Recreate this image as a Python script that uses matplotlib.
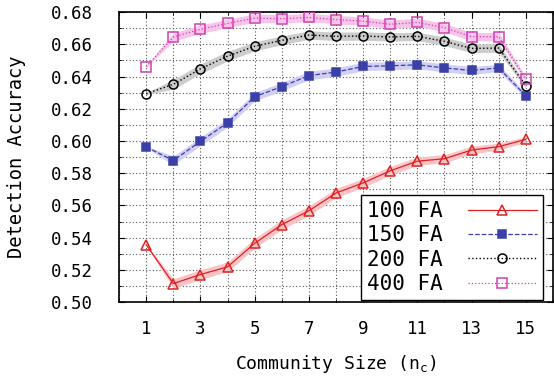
import numpy as np
import matplotlib
matplotlib.use("Agg")
import matplotlib.pyplot as plt
from matplotlib.ticker import MultipleLocator

plt.rcParams['font.family'] = ['DejaVu Sans Mono']
plt.rcParams['mathtext.fontset'] = 'custom'
plt.rcParams['mathtext.rm'] = 'DejaVu Sans Mono'
plt.rcParams['mathtext.default'] = 'rm'

# Data
sizes = np.arange(1, 16)
acc_100 = [0.5356, 0.5115, 0.5171, 0.5219, 0.5365, 0.5481, 0.5567, 0.5677,
           0.5740, 0.5815, 0.5875, 0.5890, 0.5944, 0.5965, 0.6010]
acc_150 = [0.5963, 0.5879, 0.5998, 0.6113, 0.6275, 0.6338, 0.6406, 0.6428,
           0.6463, 0.6467, 0.6473, 0.6454, 0.6438, 0.6454, 0.6281]
acc_200 = [0.6294, 0.6352, 0.6448, 0.6527, 0.6588, 0.6625, 0.6658, 0.6650,
           0.6652, 0.6646, 0.6650, 0.6619, 0.6575, 0.6577, 0.6344]
acc_400 = [0.6462, 0.6646, 0.6694, 0.6730, 0.6763, 0.6759, 0.6767, 0.6754,
           0.6744, 0.6725, 0.6736, 0.6704, 0.6648, 0.6648, 0.6384]
# half-width of the shaded bands
err_100 = [0.0006, 0.0030, 0.0030, 0.0030, 0.0030, 0.0030, 0.0030, 0.0028,
           0.0028, 0.0027, 0.0026, 0.0025, 0.0024, 0.0022, 0.0018]
err_150 = [0.0006, 0.0027, 0.0026, 0.0026, 0.0026, 0.0026, 0.0026, 0.0026,
           0.0026, 0.0025, 0.0025, 0.0025, 0.0025, 0.0022, 0.0015]
err_200 = [0.0006, 0.0030, 0.0030, 0.0030, 0.0028, 0.0027, 0.0026, 0.0026,
           0.0026, 0.0026, 0.0026, 0.0026, 0.0026, 0.0026, 0.0015]
err_400 = [0.0006, 0.0026, 0.0026, 0.0026, 0.0026, 0.0026, 0.0026, 0.0026,
           0.0026, 0.0026, 0.0026, 0.0026, 0.0026, 0.0026, 0.0015]
labels = ['100 FA', '150 FA', '200 FA', '400 FA']

fig = plt.figure(figsize=(5.54, 3.8), dpi=100)
ax = fig.add_axes([0.215, 0.205, 0.783, 0.763])

series = [
    (acc_100, err_100, '#e02020', '#f9c4c8', '-', '^', 'none', 7, 0.9),
    (acc_150, err_150, '#3b3fa8', '#d2cff4', '--', 's', '#3b3fa8', 6, 0.9),
    (acc_200, err_200, '#000000', '#cccccc', ':', 'o', 'none', 6.5, 1.0),
    (acc_400, err_400, '#d040b0', '#f7c4ea', ':', 's', 'none', 6.5, 0.9),
]
for (y, e, c, fc, ls, mk, mfc, ms, lw), lab in zip(series, labels):
    y = np.array(y)
    e = np.array(e)
    ax.fill_between(sizes, y - e, y + e, color=fc, lw=0, zorder=2)
    ax.plot(sizes, y, ls=ls, color=c, lw=lw, marker=mk, markersize=ms,
            markerfacecolor=mfc, markeredgecolor=c, markeredgewidth=1.1,
            label=lab, zorder=3)

ax.set_xlim(0, 16)
ax.set_ylim(0.50, 0.68)
ax.set_xticks(np.arange(1, 16, 2))
ax.xaxis.set_minor_locator(MultipleLocator(1))
ax.yaxis.set_major_locator(MultipleLocator(0.02))
ax.yaxis.set_minor_locator(MultipleLocator(0.01))
ax.yaxis.set_major_formatter(plt.FormatStrFormatter('%.2f'))
ax.grid(True, which='both', color='#555555', ls=(0, (1, 2)), lw=0.8)
ax.tick_params(which='both', direction='in', top=True, right=True,
               labelsize=12.5, length=4)
ax.tick_params(axis='y', pad=19)
ax.tick_params(axis='x', pad=13)
ax.tick_params(which='minor', length=2)
ax.set_axisbelow(True)
for s in ax.spines.values():
    s.set_linewidth(1.2)

ax.set_xlabel('Community Size (n$_c$)', fontsize=13, labelpad=11)
ax.set_ylabel('Detection Accuracy', fontsize=13.5, labelpad=18)

leg = ax.legend(loc='lower right', bbox_to_anchor=(0.977, 0.007),
                markerfirst=False, fontsize=15, handlelength=3.3,
                fancybox=False, framealpha=1, edgecolor='black',
                borderaxespad=0, labelspacing=0.2, handletextpad=1.2,
                borderpad=0.3)
leg.get_frame().set_linewidth(1.0)

fig.savefig('out.png', dpi=100)
